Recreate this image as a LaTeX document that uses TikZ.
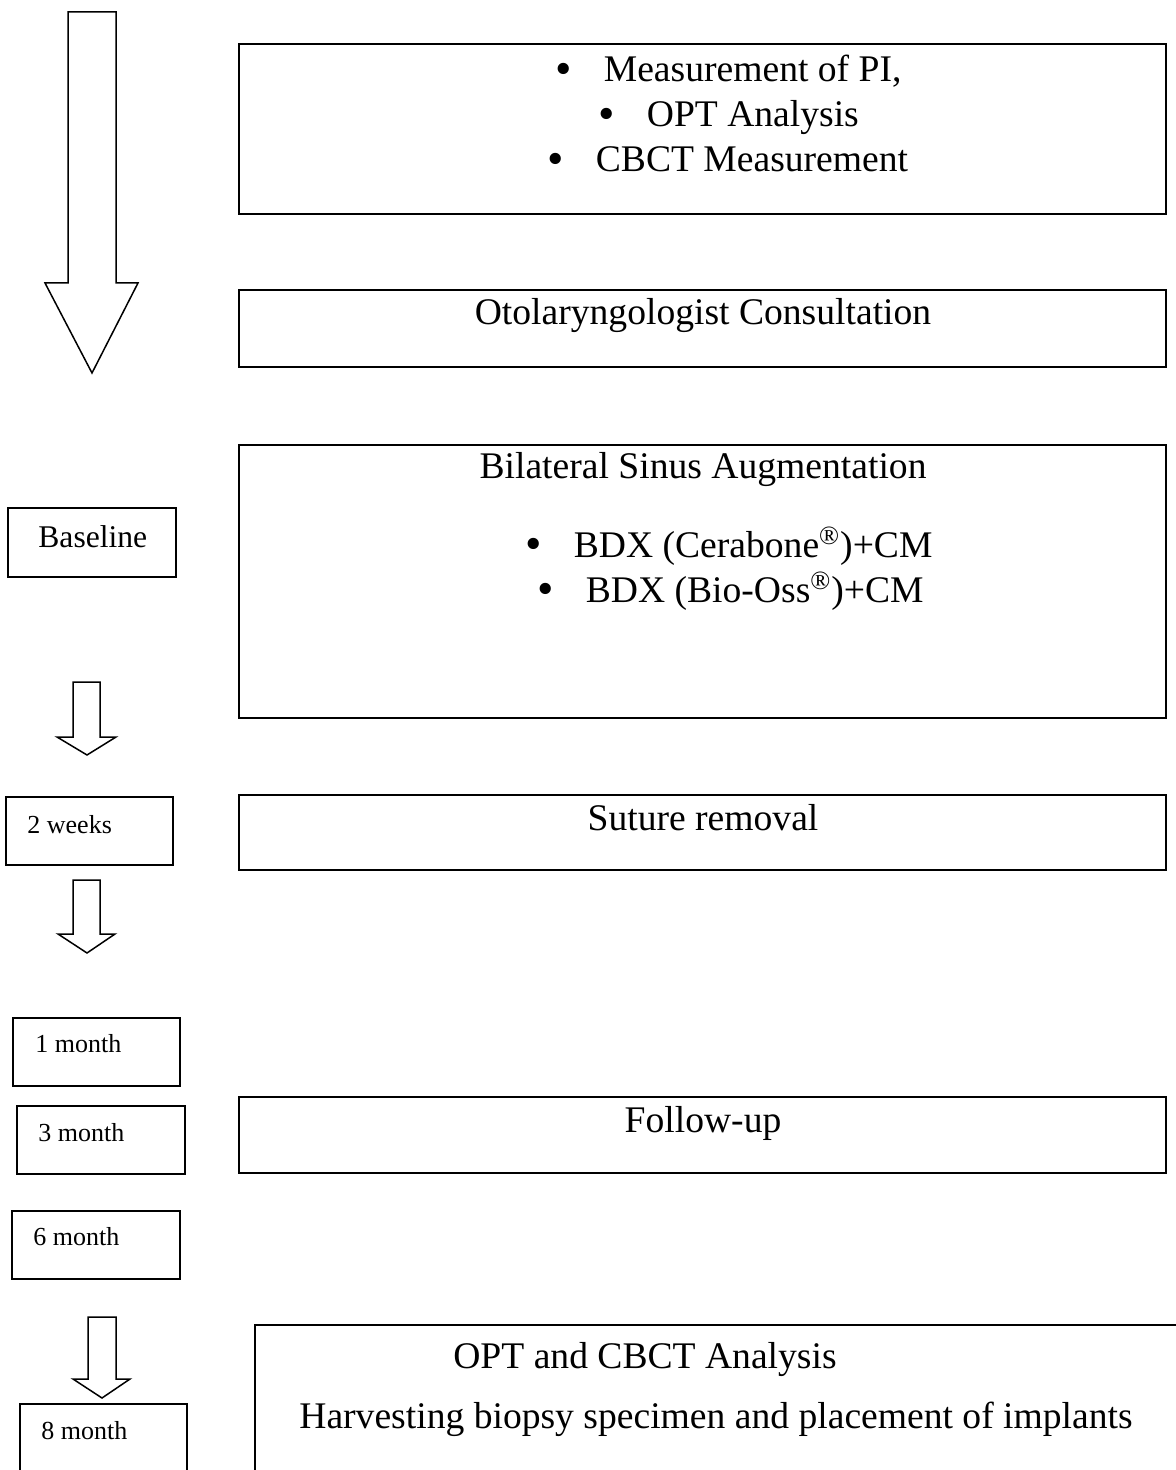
\documentclass[tikz,border=0pt]{standalone}
\usepackage{fontspec}
\setmainfont{Liberation Serif}
\usepackage{tikz}
\newcommand\dotmark{\raisebox{-0.12ex}{\scalebox{1.25}{\textbullet}}\hspace{16pt}}

\begin{document}
\begin{tikzpicture}[x=0.5pt,y=-0.5pt,
        box/.style={line width=1.1pt},
        tag/.style={line width=0.8pt},
        hollow/.style={line width=0.75pt, line join=miter},
        big/.style={inner sep=0pt, font=\fontsize{18.8}{22}\selectfont},
        mid/.style={inner sep=0pt, font=\fontsize{15.8}{19}\selectfont},
        small/.style={inner sep=0pt, font=\fontsize{13}{15}\selectfont}]
        \clip (0,0) rectangle (1176,1470);
        % time line arrows
        \draw[hollow] (68,12) -- (116,12) -- (116,283) -- (138,283) -- (92,373) -- (45,283) -- (68,283) -- cycle;
        \draw[hollow] (73,682) -- (100,682) -- (100,737) -- (116,737) -- (87,755) -- (57,737) -- (73,737) -- cycle;
        \draw[hollow] (73,880) -- (100,880) -- (100,934) -- (115,934) -- (87,953) -- (58,934) -- (73,934) -- cycle;
        \draw[hollow] (88,1317) -- (116,1317) -- (116,1379) -- (130,1379) -- (102,1398) -- (73,1379) -- (88,1379) -- cycle;
        % time points
        \draw[tag] (8,508) rectangle (176,577);
        \draw[tag] (6,797) rectangle (173,865);
        \draw[tag] (13,1018) rectangle (180,1086);
        \draw[tag] (17,1106) rectangle (185,1174);
        \draw[tag] (12,1211) rectangle (180,1279);
        \draw[tag] (20,1404) rectangle (187,1490);
        \node[mid, anchor=base west] (base) at (38,547) {Baseline};
        \node[small, anchor=base west] (wk2) at (27,833) {2 weeks};
        \node[small, anchor=base west] (mo1) at (35,1052) {1 month};
        \node[small, anchor=base west] (mo3) at (38,1141) {3 month};
        \node[small, anchor=base west] (mo6) at (33,1245) {6 month};
        \node[small, anchor=base west] (mo8) at (41,1439) {8 month};
        % procedure boxes
        \draw[box] (239,44) rectangle (1166,214);
        \draw[box] (239,290) rectangle (1166,367);
        \draw[box] (239,445) rectangle (1166,718);
        \draw[box] (239,795) rectangle (1166,870);
        \draw[box] (239,1097) rectangle (1166,1173);
        \draw[box] (255,1325) rectangle (1200,1500);
        \node[big, anchor=base west] (pi) at (555,82) {\dotmark Measurement of PI,};
        \node[big, anchor=base west] (opt) at (598,127) {\dotmark OPT Analysis};
        \node[big, anchor=base west] (cbct) at (547,172) {\dotmark CBCT Measurement};
        \node[big, anchor=base] (oto) at (703,325) {Otolaryngologist Consultation};
        \node[big, anchor=base] (sinus) at (703,478) {Bilateral Sinus Augmentation};
        \node[big, anchor=base west] (cera) at (525,557) {\dotmark BDX (Cerabone\textsuperscript{\textregistered})+CM};
        \node[big, anchor=base west] (bio) at (537,602) {\dotmark BDX (Bio-Oss\textsuperscript{\textregistered})+CM};
        \node[big, anchor=base] (suture) at (703,830) {Suture removal};
        \node[big, anchor=base] (follow) at (703,1132) {Follow-up};
        \node[big, anchor=base] (anal) at (645,1368) {OPT and CBCT Analysis};
        \node[big, anchor=base] (harv) at (716,1428) {Harvesting biopsy specimen and placement of implants};
\end{tikzpicture}
\end{document}
